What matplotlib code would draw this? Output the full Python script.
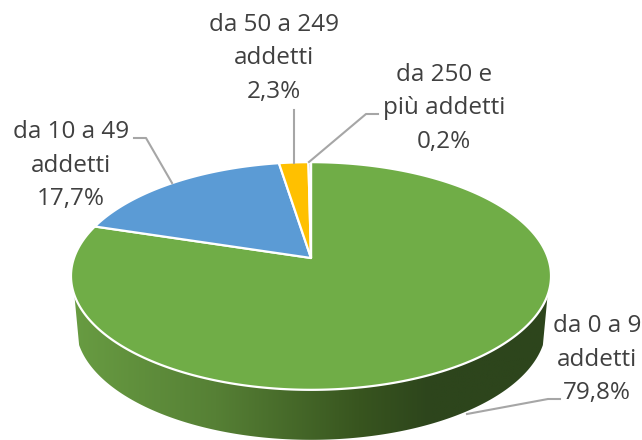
import numpy as np
import matplotlib
matplotlib.use('Agg')
import matplotlib.pyplot as plt
from matplotlib.colors import LinearSegmentedColormap
from matplotlib.patches import Polygon

plt.rcParams['font.family'] = ['Open Sans', 'DejaVu Sans']

# Dati, in senso orario dalle ore 12
categorie = ['da 0 a 9\naddetti', 'da 10 a 49\naddetti', 'da 50 a 249\naddetti', 'da 250 e\npiù addetti']
valori = [79.8, 17.7, 2.3, 0.2]
percentuali = ['79,8%', '17,7%', '2,3%', '0,2%']
colori = ['#70AD47', '#5B9BD5', '#FFC000', '#A5A5A5']

# Posizione delle etichette e delle linee guida
pos_etichette = [(597, 359.5), (71, 165.5), (274, 58.5), (444, 108.5)]
guide = [
    [(560, 399), (548, 399), (467, 414)],
    [(134, 138), (146, 138), (172, 183)],
    [(293.5, 110), (293.5, 163)],
    [(378, 114), (366, 114), (309, 162)],
]

# Prospettiva del disco
CX, CY = 311, 258
A, B, K = 237, 111, 0.158
SPESSORE = 50


def proietta(theta):
    u, v = np.sin(theta), np.cos(theta)
    return CX + A * u / (1 + K * v), CY - B * v / (1 + K * v)


fig = plt.figure(figsize=(6.42, 4.40), dpi=100)
ax = fig.add_axes([0, 0, 1, 1])
ax.set_xlim(0, 642)
ax.set_ylim(440, 0)
ax.axis('off')

# Parete laterale con sfumatura
t_parete = np.radians(np.linspace(108.5, 251.5, 200))
x_top, y_top = proietta(t_parete)
x_low = CX + (x_top - CX) * 0.98
y_low = y_top + SPESSORE
parete = Polygon(np.r_[np.c_[x_top, y_top], np.c_[x_low, y_low][::-1]], closed=True,
                 facecolor='none', edgecolor='none')
ax.add_patch(parete)
cmap = LinearSegmentedColormap.from_list('parete', [(0, '#689C42'), (0.3, '#568035'),
                                                    (0.6, '#38551F'), (0.75, '#2D451C'), (1, '#2D451C')])
img = ax.imshow(np.linspace(0, 1, 256)[None, :], cmap=cmap, aspect='auto',
                extent=(72, 550, 440, 280), zorder=1)
img.set_clip_path(parete)
ax.set_xlim(0, 642)
ax.set_ylim(440, 0)

# Spicchi
angolo = 0.0
for val, col in zip(valori, colori):
    fine = angolo + val / sum(valori) * 2 * np.pi
    t = np.linspace(angolo, fine, max(int(val * 8), 4))
    x, y = proietta(t)
    pts = np.r_[[(CX, CY)], np.c_[x, y]]
    ax.add_patch(Polygon(pts, closed=True, facecolor=col, edgecolor='white', linewidth=1.6,
                         joinstyle='round', zorder=2))
    angolo = fine

# Linee guida ed etichette
for guida in guide:
    gx, gy = zip(*guida)
    ax.plot(gx, gy, color='#A6A6A6', linewidth=1.5, zorder=3)

for (x, y), cat, perc in zip(pos_etichette, categorie, percentuali):
    ax.text(x, y, cat + '\n' + perc, ha='center', va='center', fontsize=17.5,
            color='#404040', linespacing=1.54, zorder=4)

fig.savefig('out.png', dpi=100)
